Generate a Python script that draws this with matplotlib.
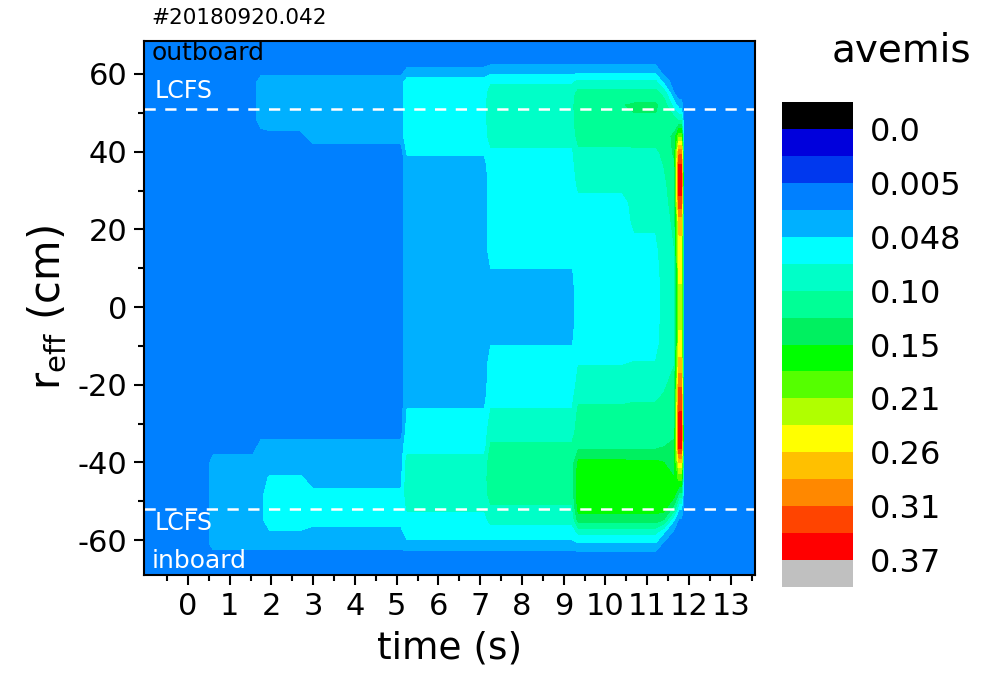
import numpy as np
import matplotlib.pyplot as plt

SHOT_LABEL = '#20180920.042'
CBAR_TITLE = 'avemis'

# contour levels of avemis and the colour of each band (below 0.0 is black, above 0.37 grey)
levels = [-0.01, 0.0, 0.0025, 0.005, 0.026, 0.048, 0.074, 0.10, 0.125, 0.15,
          0.18, 0.21, 0.235, 0.26, 0.285, 0.31, 0.34, 0.37, 0.40]
band_colors = ['#000000', '#0000dc', '#0038ee', '#0080ff', '#00b0ff', '#00ffff',
               '#00ffc8', '#00ff96', '#00f060', '#00ff00', '#55ff00', '#b0ff00',
               '#ffff00', '#ffc000', '#ff8800', '#ff4400', '#ff0000', '#c0c0c0']
cbar_ticks = [0.0, 0.005, 0.048, 0.10, 0.15, 0.21, 0.26, 0.31, 0.37]
cbar_ticklabels = ['0.0', '0.005', '0.048', '0.10', '0.15', '0.21', '0.26', '0.31', '0.37']

# radial grid (cm), inboard -> outboard
r_nodes = [-69, -64, -61, -58, -55, -52, -48, -44, -40, -36, -32, -27, -22, -15, -9, -3,
           3, 9, 15, 22, 27, 32, 36, 40, 44, 48, 52, 55, 58, 61, 64, 69]

# radial profiles of avemis, one per phase of the shot
prof_quiet = [0.015] * 32
prof_ramp = [0.015, 0.015, 0.037, 0.038, 0.038, 0.038, 0.038, 0.037, 0.036, 0.015, 0.015, 0.015,
             0.015, 0.015, 0.015, 0.015, 0.015, 0.015, 0.015, 0.015, 0.015, 0.015, 0.015, 0.015,
             0.015, 0.015, 0.015, 0.015, 0.015, 0.015, 0.015, 0.015]
prof_early = [0.015, 0.015, 0.037, 0.040, 0.040, 0.042, 0.040, 0.038, 0.037, 0.036, 0.015, 0.015,
              0.015, 0.015, 0.015, 0.015, 0.015, 0.015, 0.015, 0.015, 0.015, 0.015, 0.015, 0.015,
              0.015, 0.037, 0.038, 0.038, 0.037, 0.015, 0.015, 0.015]
prof_bulb = [0.015, 0.015, 0.037, 0.045, 0.062, 0.065, 0.062, 0.050, 0.037, 0.036, 0.015, 0.015,
             0.015, 0.015, 0.015, 0.015, 0.015, 0.015, 0.015, 0.015, 0.015, 0.015, 0.015, 0.015,
             0.020, 0.037, 0.038, 0.038, 0.037, 0.015, 0.015, 0.015]
prof_flat = [0.015, 0.015, 0.037, 0.040, 0.055, 0.058, 0.052, 0.040, 0.038, 0.036, 0.015, 0.015,
             0.015, 0.015, 0.015, 0.015, 0.015, 0.015, 0.015, 0.015, 0.015, 0.015, 0.015, 0.015,
             0.037, 0.038, 0.038, 0.038, 0.038, 0.015, 0.015, 0.015]
prof_nbi1 = [0.015, 0.015, 0.040, 0.062, 0.066, 0.076, 0.088, 0.090, 0.085, 0.064, 0.060, 0.050,
             0.038, 0.037, 0.037, 0.037, 0.037, 0.037, 0.037, 0.037, 0.037, 0.037, 0.037, 0.052,
             0.062, 0.064, 0.064, 0.063, 0.058, 0.030, 0.015, 0.015]
prof_nbi2 = [0.015, 0.015, 0.040, 0.062, 0.080, 0.095, 0.112, 0.115, 0.113, 0.104, 0.090, 0.076,
             0.064, 0.060, 0.046, 0.038, 0.038, 0.046, 0.060, 0.062, 0.062, 0.062, 0.064, 0.070,
             0.085, 0.090, 0.090, 0.088, 0.070, 0.035, 0.015, 0.015]
prof_nbi3 = [0.015, 0.015, 0.045, 0.080, 0.135, 0.160, 0.168, 0.168, 0.156, 0.118, 0.112, 0.106,
             0.090, 0.074, 0.062, 0.060, 0.060, 0.060, 0.062, 0.064, 0.068, 0.080, 0.090, 0.095,
             0.110, 0.120, 0.124, 0.112, 0.080, 0.035, 0.015, 0.015]
prof_nbi3b = [0.015, 0.015, 0.045, 0.080, 0.135, 0.160, 0.168, 0.165, 0.155, 0.120, 0.114, 0.108,
              0.092, 0.076, 0.064, 0.061, 0.061, 0.062, 0.068, 0.078, 0.080, 0.084, 0.090, 0.096,
              0.110, 0.122, 0.128, 0.112, 0.080, 0.035, 0.015, 0.015]
prof_decay = [0.015, 0.015, 0.020, 0.050, 0.120, 0.160, 0.165, 0.160, 0.150, 0.125, 0.118, 0.110,
              0.100, 0.090, 0.085, 0.085, 0.085, 0.085, 0.088, 0.090, 0.092, 0.095, 0.100, 0.105,
              0.115, 0.124, 0.115, 0.090, 0.040, 0.015, 0.015, 0.015]
prof_edge = [0.015, 0.015, 0.015, 0.020, 0.045, 0.110, 0.160, 0.150, 0.140, 0.130, 0.120, 0.115,
             0.110, 0.100, 0.095, 0.095, 0.095, 0.095, 0.100, 0.105, 0.110, 0.115, 0.120, 0.130,
             0.130, 0.110, 0.060, 0.025, 0.015, 0.015, 0.015, 0.015]
prof_crash = [0.015, 0.015, 0.015, 0.015, 0.020, 0.050, 0.120, 0.190, 0.260, 0.350, 0.360, 0.340,
              0.320, 0.270, 0.240, 0.230, 0.230, 0.240, 0.250, 0.270, 0.330, 0.360, 0.350, 0.300,
              0.200, 0.100, 0.035, 0.015, 0.015, 0.015, 0.015, 0.015]

# time nodes (s) and which profile holds at each
t_nodes = [-1.1, 0.45, 0.6, 1.55, 1.75, 1.95, 2.7, 3.0, 5.1, 5.25, 7.1, 7.25, 9.2, 9.35,
           10.4, 10.7, 11.2, 11.4, 11.65, 11.76, 11.82, 11.88, 13.7]
t_profiles = [prof_quiet, prof_quiet, prof_ramp, prof_ramp, prof_early, prof_bulb, prof_bulb,
              prof_flat, prof_flat, prof_nbi1, prof_nbi1, prof_nbi2, prof_nbi2, prof_nbi3,
              prof_nbi3, prof_nbi3b, prof_nbi3b, prof_decay, prof_edge, prof_crash, prof_crash,
              prof_quiet, prof_quiet]

LCFS_OUT = 51
LCFS_IN = -52


def main():
    plt.rcParams['font.family'] = 'DejaVu Sans'
    plt.rcParams['mathtext.default'] = 'regular'
    plt.rcParams['axes.unicode_minus'] = False

    fig = plt.figure(figsize=(9.85, 6.73), dpi=100)
    ax = fig.add_axes([0.1462, 0.1456, 0.6203, 0.7935])
    cax = fig.add_axes([0.794, 0.1278, 0.072, 0.7206])

    emis = np.array(t_profiles).T
    cs = ax.contourf(t_nodes, r_nodes, emis, levels=levels, colors=band_colors)

    # last closed flux surface
    for r in (LCFS_OUT, LCFS_IN):
        ax.axhline(r, color='white', lw=1.8, dashes=(4.5, 3.8))

    ax.text(-0.86, 65.3, 'outboard', color='black', fontsize=18, va='center')
    ax.text(-0.8, 55.5, 'LCFS', color='white', fontsize=17, va='center')
    ax.text(-0.8, -55.5, 'LCFS', color='white', fontsize=17, va='center')
    ax.text(-0.86, -65.3, 'inboard', color='white', fontsize=18, va='center')

    ax.set_xlim(-1.05, 13.58)
    ax.set_ylim(-69, 68.5)
    ax.set_xticks(range(0, 14))
    ax.set_xticks(np.arange(-0.5, 13.6, 1.0), minor=True)
    ax.set_yticks([-60, -40, -20, 0, 20, 40, 60])
    ax.set_yticks([-50, -30, -10, 10, 30, 50], minor=True)
    ax.tick_params(which='major', length=7, width=1.5, labelsize=22, pad=5)
    ax.tick_params(which='minor', length=4, width=1.5)
    for s in ax.spines.values():
        s.set_linewidth(1.5)

    ax.set_xlabel('time (s)', fontsize=27, labelpad=7)
    ax.set_ylabel(r'r$_{\rm eff}$ (cm)', fontsize=30, labelpad=6)

    fig.text(0.154, 0.973, SHOT_LABEL, fontsize=15.5, va='center', ha='left')

    cbar = fig.colorbar(cs, cax=cax)
    cbar.outline.set_visible(False)
    cbar.set_ticks(cbar_ticks, labels=cbar_ticklabels)
    cax.tick_params(length=0, labelsize=23, pad=12)
    cax.invert_yaxis()
    fig.text(0.915, 0.925, CBAR_TITLE, fontsize=28, ha='center', va='center')

    fig.savefig('out.png', dpi=100)


if __name__ == '__main__':
    main()
